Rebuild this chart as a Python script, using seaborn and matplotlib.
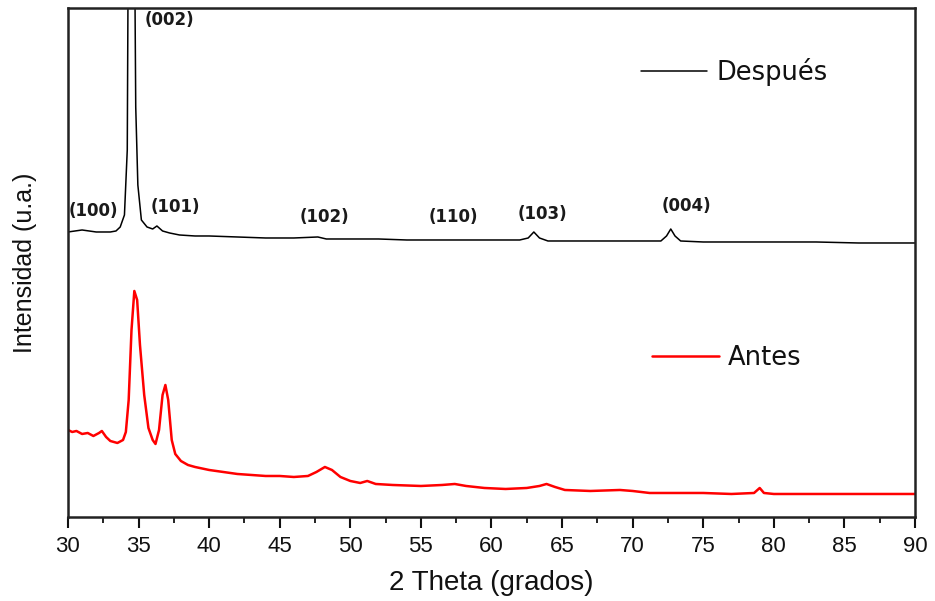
import numpy as np
import pandas as pd
import matplotlib
matplotlib.use("Agg")
import matplotlib.pyplot as plt
import seaborn as sns

# Patrón DRX "Después" (2theta, intensidad u.a.)
despues_2theta = [30.0, 30.5, 31.0, 31.5, 32.0, 32.5, 33.0, 33.4, 33.7, 34.0,
                  34.2, 34.35, 34.5, 34.65, 34.8, 34.95, 35.2, 35.6, 36.0, 36.3,
                  36.7, 37.2, 37.9, 39.0, 40.0, 42.0, 44.0, 46.0, 47.7, 48.3,
                  50.0, 52.0, 54.0, 56.0, 58.0, 60.0, 62.0, 62.6, 63.0, 63.4,
                  64.0, 66.0, 68.0, 70.0, 72.0, 72.4, 72.7, 73.0, 73.4, 75.0,
                  78.0, 80.0, 83.0, 86.0, 90.0]
despues_int = [285, 286, 287, 286, 285, 285, 285, 286, 290, 302,
               367, 817, 917, 717, 410, 332, 297, 290, 288, 291,
               286, 284, 282, 281, 281, 280, 279, 279, 280, 278,
               278, 278, 277, 277, 277, 277, 277, 279, 285, 279,
               276, 276, 276, 276, 276, 281, 288, 281, 276, 275,
               275, 275, 275, 274, 274]

# Patrón DRX "Antes"
antes_2theta = [30.0, 30.3, 30.6, 31.0, 31.4, 31.8, 32.2, 32.4, 32.7, 33.0,
                33.5, 33.9, 34.1, 34.3, 34.5, 34.7, 34.9, 35.1, 35.4, 35.7,
                36.0, 36.2, 36.45, 36.7, 36.9, 37.1, 37.35, 37.6, 38.0, 38.5,
                39.0, 40.0, 41.0, 42.0, 43.0, 44.0, 45.0, 46.0, 47.0, 47.6,
                48.2, 48.7, 49.3, 50.0, 50.7, 51.2, 51.8, 53.0, 55.0, 56.5,
                57.4, 58.2, 59.5, 61.0, 62.5, 63.4, 63.9, 64.5, 65.2, 67.0,
                69.1, 70.0, 71.2, 73.0, 75.0, 77.0, 78.6, 79.0, 79.3, 80.0,
                83.0, 86.0, 90.0]
antes_int = [87, 85, 86, 83, 84, 81, 84, 86, 80, 76,
             74, 77, 85, 117, 187, 226, 217, 172, 122, 89,
             77, 73, 87, 122, 132, 117, 77, 63, 56, 52,
             50, 47, 45, 43, 42, 41, 41, 40, 41, 45,
             50, 47, 40, 36, 34, 36, 33, 32, 31, 32,
             33, 31, 29, 28, 29, 31, 33, 30, 27, 26,
             27, 26, 24, 24, 24, 23, 24, 29, 24, 23,
             23, 23, 23]

# Índices de Miller y posición de sus etiquetas
hkl_labels = ["(100)", "(002)", "(101)", "(102)", "(110)", "(103)", "(004)"]
hkl_x = [31.8, 37.2, 37.6, 48.2, 57.3, 63.6, 73.8]
hkl_y = [306, 497, 310, 300, 300, 303, 311]

df_d = pd.DataFrame({"2theta": despues_2theta, "I": despues_int})
df_a = pd.DataFrame({"2theta": antes_2theta, "I": antes_int})

sns.set_style("white")
plt.rcParams["font.family"] = ["Liberation Sans", "DejaVu Sans"]
plt.rcParams["text.color"] = "#111111"
plt.rcParams["axes.labelcolor"] = "#111111"
plt.rcParams["xtick.color"] = "#111111"

fig = plt.figure(figsize=(9.35, 6.01), dpi=100)
ax = fig.add_axes([0.0727, 0.1398, 0.9059, 0.8469])

sns.lineplot(data=df_d, x="2theta", y="I", ax=ax, color="black", linewidth=1.1,
             label="Después")
sns.lineplot(data=df_a, x="2theta", y="I", ax=ax, color="#ff0000", linewidth=1.8,
             label="Antes")

for lab, x, y in zip(hkl_labels, hkl_x, hkl_y):
    ax.text(x, y, lab, ha="center", va="center", fontsize=12,
            fontweight="bold", family="DejaVu Sans", color="#1a1a1a")

ax.set_xlim(30, 90)
ax.set_ylim(0, 509)
ax.set_xticks(np.arange(30, 91, 5))
ax.set_xticks(np.arange(32.5, 90, 5), minor=True)
ax.set_yticks([])
ax.tick_params(axis="x", which="major", direction="out", length=8, width=1.5,
               labelsize=16, pad=6, bottom=True)
ax.tick_params(axis="x", which="minor", direction="out", length=4, width=1.3,
               bottom=True)
ax.set_xlabel("2 Theta (grados)", fontsize=20, labelpad=9)
ax.set_ylabel("Intensidad (u.a.)", fontsize=18, labelpad=22)
for sp in ax.spines.values():
    sp.set_linewidth(1.8)
    sp.set_color("#222222")

# dos leyendas separadas, una junto a cada patrón
handles, labels = ax.get_legend_handles_labels()
ax.get_legend().remove()
leg_kw = dict(frameon=False, loc="center left", borderpad=0, borderaxespad=0,
              handlelength=2.6, handletextpad=0.35,
              prop={"family": "DejaVu Sans", "size": 18.5})
leg1 = ax.legend([handles[0]], [labels[0]], bbox_to_anchor=(0.676, 0.874), **leg_kw)
ax.add_artist(leg1)
ax.legend([handles[1]], [labels[1]], bbox_to_anchor=(0.690, 0.312), **leg_kw)

fig.savefig("out.png", dpi=100)
